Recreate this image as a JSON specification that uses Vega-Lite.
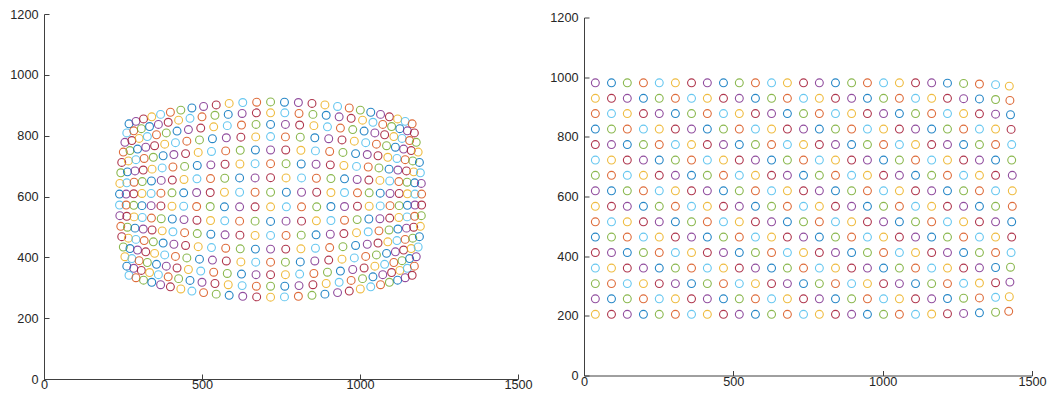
{"$schema":"https://vega.github.io/schema/vega-lite/v6.json","background":"white","padding":{"left":9,"top":8,"right":5,"bottom":5},"spacing":66,"bounds":"flush","center":true,
"config":{"view":{"stroke":null},"font":"Liberation Sans","axis":{"grid":false,"title":null,"domainColor":"#404040","domainWidth":1,"tickColor":"#404040","tickSize":-5,"labelColor":"#262626","labelFont":"Liberation Sans","labelFontSize":12.7,"labelFlush":false,"format":"d"},"axisX":{"labelPadding":4.5},"axisY":{"labelPadding":11}},
"datasets":{"L":[
{"x":269,"y":839,"c":0},{"x":291,"y":847,"c":3},{"x":315,"y":855,"c":6},{"x":341,"y":862,"c":2},{"x":369,"y":870,"c":5},{"x":400,"y":877,"c":1},{"x":433,"y":884,"c":4},{"x":468,"y":891,"c":0},{"x":505,"y":896,"c":3},{"x":545,"y":901,"c":6},{"x":586,"y":906,"c":2},{"x":629,"y":909,"c":5},{"x":673,"y":910,"c":1},{"x":717,"y":911,"c":4},{"x":761,"y":910,"c":0},{"x":805,"y":909,"c":3},{"x":848,"y":906,"c":6},{"x":889,"y":901,"c":2},{"x":929,"y":896,"c":5},{"x":966,"y":891,"c":1},{"x":1001,"y":884,"c":4},{"x":1034,"y":877,"c":0},{"x":1065,"y":870,"c":3},{"x":1093,"y":862,"c":6},{"x":1119,"y":855,"c":2},{"x":1143,"y":847,"c":5},{"x":1165,"y":839,"c":1},
{"x":262,"y":809,"c":5},{"x":284,"y":816,"c":1},{"x":308,"y":823,"c":4},{"x":334,"y":830,"c":0},{"x":362,"y":837,"c":3},{"x":393,"y":844,"c":6},{"x":426,"y":851,"c":2},{"x":462,"y":857,"c":5},{"x":500,"y":862,"c":1},{"x":541,"y":867,"c":4},{"x":583,"y":870,"c":0},{"x":627,"y":873,"c":3},{"x":672,"y":875,"c":6},{"x":717,"y":875,"c":2},{"x":762,"y":875,"c":5},{"x":807,"y":873,"c":1},{"x":851,"y":870,"c":4},{"x":893,"y":867,"c":0},{"x":934,"y":862,"c":3},{"x":972,"y":857,"c":6},{"x":1008,"y":851,"c":2},{"x":1041,"y":844,"c":5},{"x":1072,"y":837,"c":1},{"x":1100,"y":830,"c":4},{"x":1126,"y":823,"c":0},{"x":1150,"y":816,"c":3},{"x":1172,"y":809,"c":6},
{"x":256,"y":778,"c":3},{"x":278,"y":784,"c":6},{"x":301,"y":791,"c":2},{"x":327,"y":797,"c":5},{"x":356,"y":803,"c":1},{"x":387,"y":809,"c":4},{"x":421,"y":815,"c":0},{"x":457,"y":820,"c":3},{"x":496,"y":825,"c":6},{"x":537,"y":829,"c":2},{"x":580,"y":833,"c":5},{"x":625,"y":835,"c":1},{"x":671,"y":837,"c":4},{"x":717,"y":837,"c":0},{"x":764,"y":837,"c":3},{"x":809,"y":835,"c":6},{"x":854,"y":833,"c":2},{"x":897,"y":829,"c":5},{"x":938,"y":825,"c":1},{"x":977,"y":820,"c":4},{"x":1013,"y":815,"c":0},{"x":1047,"y":809,"c":3},{"x":1078,"y":803,"c":6},{"x":1107,"y":797,"c":2},{"x":1133,"y":791,"c":5},{"x":1157,"y":784,"c":1},{"x":1178,"y":778,"c":4},
{"x":251,"y":746,"c":1},{"x":272,"y":751,"c":4},{"x":296,"y":756,"c":0},{"x":322,"y":762,"c":3},{"x":350,"y":767,"c":6},{"x":382,"y":772,"c":2},{"x":416,"y":777,"c":5},{"x":452,"y":782,"c":1},{"x":492,"y":786,"c":4},{"x":533,"y":790,"c":0},{"x":577,"y":793,"c":3},{"x":623,"y":795,"c":6},{"x":670,"y":796,"c":2},{"x":717,"y":797,"c":5},{"x":764,"y":796,"c":1},{"x":811,"y":795,"c":4},{"x":857,"y":793,"c":0},{"x":901,"y":790,"c":3},{"x":943,"y":786,"c":6},{"x":982,"y":782,"c":2},{"x":1018,"y":777,"c":5},{"x":1052,"y":772,"c":1},{"x":1084,"y":767,"c":4},{"x":1112,"y":762,"c":0},{"x":1138,"y":756,"c":3},{"x":1162,"y":751,"c":6},{"x":1184,"y":746,"c":2},
{"x":246,"y":712,"c":6},{"x":267,"y":717,"c":2},{"x":291,"y":721,"c":5},{"x":317,"y":725,"c":1},{"x":346,"y":729,"c":4},{"x":377,"y":734,"c":0},{"x":411,"y":738,"c":3},{"x":448,"y":741,"c":6},{"x":488,"y":745,"c":2},{"x":530,"y":748,"c":5},{"x":575,"y":750,"c":1},{"x":621,"y":752,"c":4},{"x":669,"y":753,"c":0},{"x":717,"y":753,"c":3},{"x":765,"y":753,"c":6},{"x":813,"y":752,"c":2},{"x":859,"y":750,"c":5},{"x":904,"y":748,"c":1},{"x":946,"y":745,"c":4},{"x":986,"y":741,"c":0},{"x":1023,"y":738,"c":3},{"x":1057,"y":734,"c":6},{"x":1088,"y":729,"c":2},{"x":1117,"y":725,"c":5},{"x":1143,"y":721,"c":1},{"x":1167,"y":717,"c":4},{"x":1188,"y":712,"c":0},
{"x":243,"y":678,"c":4},{"x":264,"y":681,"c":0},{"x":288,"y":684,"c":3},{"x":314,"y":687,"c":6},{"x":342,"y":690,"c":2},{"x":374,"y":694,"c":5},{"x":408,"y":697,"c":1},{"x":445,"y":699,"c":4},{"x":485,"y":702,"c":0},{"x":528,"y":704,"c":3},{"x":573,"y":706,"c":6},{"x":620,"y":707,"c":2},{"x":668,"y":708,"c":5},{"x":717,"y":708,"c":1},{"x":766,"y":708,"c":4},{"x":814,"y":707,"c":0},{"x":861,"y":706,"c":3},{"x":906,"y":704,"c":6},{"x":949,"y":702,"c":2},{"x":989,"y":699,"c":5},{"x":1026,"y":697,"c":1},{"x":1060,"y":694,"c":4},{"x":1092,"y":690,"c":0},{"x":1120,"y":687,"c":3},{"x":1147,"y":684,"c":6},{"x":1170,"y":681,"c":2},{"x":1191,"y":678,"c":5},
{"x":240,"y":643,"c":2},{"x":262,"y":645,"c":5},{"x":285,"y":647,"c":1},{"x":311,"y":649,"c":4},{"x":340,"y":651,"c":0},{"x":371,"y":653,"c":3},{"x":406,"y":654,"c":6},{"x":443,"y":656,"c":2},{"x":484,"y":658,"c":5},{"x":527,"y":659,"c":1},{"x":572,"y":660,"c":4},{"x":619,"y":661,"c":0},{"x":668,"y":661,"c":3},{"x":717,"y":662,"c":6},{"x":766,"y":661,"c":2},{"x":815,"y":661,"c":5},{"x":862,"y":660,"c":1},{"x":908,"y":659,"c":4},{"x":951,"y":658,"c":0},{"x":991,"y":656,"c":3},{"x":1028,"y":654,"c":6},{"x":1063,"y":653,"c":2},{"x":1094,"y":651,"c":5},{"x":1123,"y":649,"c":1},{"x":1149,"y":647,"c":4},{"x":1173,"y":645,"c":0},{"x":1194,"y":643,"c":3},
{"x":239,"y":608,"c":0},{"x":260,"y":608,"c":3},{"x":284,"y":609,"c":6},{"x":310,"y":610,"c":2},{"x":339,"y":610,"c":5},{"x":370,"y":611,"c":1},{"x":405,"y":612,"c":4},{"x":442,"y":612,"c":0},{"x":483,"y":613,"c":3},{"x":526,"y":613,"c":6},{"x":571,"y":614,"c":2},{"x":619,"y":614,"c":5},{"x":668,"y":614,"c":1},{"x":717,"y":614,"c":4},{"x":767,"y":614,"c":0},{"x":815,"y":614,"c":3},{"x":863,"y":614,"c":6},{"x":908,"y":613,"c":2},{"x":951,"y":613,"c":5},{"x":992,"y":612,"c":1},{"x":1029,"y":612,"c":4},{"x":1064,"y":611,"c":0},{"x":1095,"y":610,"c":3},{"x":1124,"y":610,"c":6},{"x":1150,"y":609,"c":2},{"x":1174,"y":608,"c":5},{"x":1195,"y":608,"c":1},
{"x":239,"y":572,"c":5},{"x":260,"y":572,"c":1},{"x":284,"y":571,"c":4},{"x":310,"y":570,"c":0},{"x":339,"y":570,"c":3},{"x":370,"y":569,"c":6},{"x":405,"y":568,"c":2},{"x":442,"y":568,"c":5},{"x":483,"y":567,"c":1},{"x":526,"y":567,"c":4},{"x":571,"y":566,"c":0},{"x":619,"y":566,"c":3},{"x":668,"y":566,"c":6},{"x":717,"y":566,"c":2},{"x":767,"y":566,"c":5},{"x":815,"y":566,"c":1},{"x":863,"y":566,"c":4},{"x":908,"y":567,"c":0},{"x":951,"y":567,"c":3},{"x":992,"y":568,"c":6},{"x":1029,"y":568,"c":2},{"x":1064,"y":569,"c":5},{"x":1095,"y":570,"c":1},{"x":1124,"y":570,"c":4},{"x":1150,"y":571,"c":0},{"x":1174,"y":572,"c":3},{"x":1195,"y":572,"c":6},
{"x":240,"y":537,"c":3},{"x":262,"y":535,"c":6},{"x":285,"y":533,"c":2},{"x":311,"y":531,"c":5},{"x":340,"y":529,"c":1},{"x":371,"y":527,"c":4},{"x":406,"y":526,"c":0},{"x":443,"y":524,"c":3},{"x":484,"y":522,"c":6},{"x":527,"y":521,"c":2},{"x":572,"y":520,"c":5},{"x":619,"y":519,"c":1},{"x":668,"y":519,"c":4},{"x":717,"y":518,"c":0},{"x":766,"y":519,"c":3},{"x":815,"y":519,"c":6},{"x":862,"y":520,"c":2},{"x":908,"y":521,"c":5},{"x":951,"y":522,"c":1},{"x":991,"y":524,"c":4},{"x":1028,"y":526,"c":0},{"x":1063,"y":527,"c":3},{"x":1094,"y":529,"c":6},{"x":1123,"y":531,"c":2},{"x":1149,"y":533,"c":5},{"x":1173,"y":535,"c":1},{"x":1194,"y":537,"c":4},
{"x":243,"y":502,"c":1},{"x":264,"y":499,"c":4},{"x":288,"y":496,"c":0},{"x":314,"y":493,"c":3},{"x":342,"y":490,"c":6},{"x":374,"y":487,"c":2},{"x":408,"y":484,"c":5},{"x":445,"y":481,"c":1},{"x":485,"y":478,"c":4},{"x":528,"y":476,"c":0},{"x":573,"y":474,"c":3},{"x":620,"y":473,"c":6},{"x":668,"y":472,"c":2},{"x":717,"y":472,"c":5},{"x":766,"y":472,"c":1},{"x":814,"y":473,"c":4},{"x":861,"y":474,"c":0},{"x":906,"y":476,"c":3},{"x":949,"y":478,"c":6},{"x":989,"y":481,"c":2},{"x":1026,"y":484,"c":5},{"x":1060,"y":487,"c":1},{"x":1092,"y":490,"c":4},{"x":1120,"y":493,"c":0},{"x":1147,"y":496,"c":3},{"x":1170,"y":499,"c":6},{"x":1191,"y":502,"c":2},
{"x":246,"y":468,"c":6},{"x":267,"y":463,"c":2},{"x":291,"y":459,"c":5},{"x":317,"y":455,"c":1},{"x":346,"y":451,"c":4},{"x":377,"y":447,"c":0},{"x":411,"y":443,"c":3},{"x":448,"y":439,"c":6},{"x":488,"y":435,"c":2},{"x":530,"y":432,"c":5},{"x":575,"y":430,"c":1},{"x":621,"y":428,"c":4},{"x":669,"y":427,"c":0},{"x":717,"y":427,"c":3},{"x":765,"y":427,"c":6},{"x":813,"y":428,"c":2},{"x":859,"y":430,"c":5},{"x":904,"y":432,"c":1},{"x":946,"y":435,"c":4},{"x":986,"y":439,"c":0},{"x":1023,"y":443,"c":3},{"x":1057,"y":447,"c":6},{"x":1088,"y":451,"c":2},{"x":1117,"y":455,"c":5},{"x":1143,"y":459,"c":1},{"x":1167,"y":463,"c":4},{"x":1188,"y":468,"c":0},
{"x":251,"y":434,"c":4},{"x":272,"y":429,"c":0},{"x":296,"y":424,"c":3},{"x":322,"y":418,"c":6},{"x":350,"y":413,"c":2},{"x":382,"y":408,"c":5},{"x":416,"y":403,"c":1},{"x":452,"y":398,"c":4},{"x":492,"y":394,"c":0},{"x":533,"y":391,"c":3},{"x":577,"y":388,"c":6},{"x":623,"y":385,"c":2},{"x":670,"y":384,"c":5},{"x":717,"y":384,"c":1},{"x":764,"y":384,"c":4},{"x":811,"y":385,"c":0},{"x":857,"y":388,"c":3},{"x":901,"y":391,"c":6},{"x":943,"y":394,"c":2},{"x":982,"y":398,"c":5},{"x":1018,"y":403,"c":1},{"x":1052,"y":408,"c":4},{"x":1084,"y":413,"c":0},{"x":1112,"y":418,"c":3},{"x":1138,"y":424,"c":6},{"x":1162,"y":429,"c":2},{"x":1184,"y":434,"c":5},
{"x":256,"y":402,"c":2},{"x":278,"y":396,"c":5},{"x":301,"y":389,"c":1},{"x":327,"y":383,"c":4},{"x":356,"y":377,"c":0},{"x":387,"y":371,"c":3},{"x":421,"y":365,"c":6},{"x":457,"y":360,"c":2},{"x":496,"y":355,"c":5},{"x":537,"y":351,"c":1},{"x":580,"y":347,"c":4},{"x":625,"y":345,"c":0},{"x":671,"y":343,"c":3},{"x":717,"y":343,"c":6},{"x":764,"y":343,"c":2},{"x":809,"y":345,"c":5},{"x":854,"y":347,"c":1},{"x":897,"y":351,"c":4},{"x":938,"y":355,"c":0},{"x":977,"y":360,"c":3},{"x":1013,"y":365,"c":6},{"x":1047,"y":371,"c":2},{"x":1078,"y":377,"c":5},{"x":1107,"y":383,"c":1},{"x":1133,"y":389,"c":4},{"x":1157,"y":396,"c":0},{"x":1178,"y":402,"c":3},
{"x":262,"y":371,"c":0},{"x":284,"y":364,"c":3},{"x":308,"y":357,"c":6},{"x":334,"y":350,"c":2},{"x":362,"y":343,"c":5},{"x":393,"y":336,"c":1},{"x":426,"y":330,"c":4},{"x":462,"y":324,"c":0},{"x":500,"y":318,"c":3},{"x":541,"y":314,"c":6},{"x":583,"y":310,"c":2},{"x":627,"y":307,"c":5},{"x":672,"y":305,"c":1},{"x":717,"y":305,"c":4},{"x":762,"y":305,"c":0},{"x":807,"y":307,"c":3},{"x":851,"y":310,"c":6},{"x":893,"y":314,"c":2},{"x":934,"y":318,"c":5},{"x":972,"y":324,"c":1},{"x":1008,"y":330,"c":4},{"x":1041,"y":336,"c":0},{"x":1072,"y":343,"c":3},{"x":1100,"y":350,"c":6},{"x":1126,"y":357,"c":2},{"x":1150,"y":364,"c":5},{"x":1172,"y":371,"c":1},
{"x":269,"y":341,"c":5},{"x":291,"y":333,"c":1},{"x":315,"y":325,"c":4},{"x":341,"y":318,"c":0},{"x":369,"y":310,"c":3},{"x":400,"y":303,"c":6},{"x":433,"y":296,"c":2},{"x":468,"y":289,"c":5},{"x":505,"y":284,"c":1},{"x":545,"y":279,"c":4},{"x":586,"y":275,"c":0},{"x":629,"y":272,"c":3},{"x":673,"y":270,"c":6},{"x":717,"y":269,"c":2},{"x":761,"y":270,"c":5},{"x":805,"y":272,"c":1},{"x":848,"y":275,"c":4},{"x":889,"y":279,"c":0},{"x":929,"y":284,"c":3},{"x":966,"y":289,"c":6},{"x":1001,"y":296,"c":2},{"x":1034,"y":303,"c":5},{"x":1065,"y":310,"c":1},{"x":1093,"y":318,"c":4},{"x":1119,"y":325,"c":0},{"x":1143,"y":333,"c":3},{"x":1165,"y":341,"c":6}
],"R":[
{"x":38,"y":981,"c":3},{"x":92,"y":981,"c":0},{"x":145,"y":981,"c":4},{"x":199,"y":981,"c":1},{"x":252,"y":981,"c":5},{"x":306,"y":981,"c":2},{"x":360,"y":981,"c":6},{"x":413,"y":981,"c":3},{"x":467,"y":981,"c":0},{"x":520,"y":981,"c":4},{"x":574,"y":981,"c":1},{"x":628,"y":981,"c":5},{"x":681,"y":981,"c":2},{"x":735,"y":981,"c":6},{"x":788,"y":981,"c":3},{"x":842,"y":981,"c":0},{"x":896,"y":981,"c":4},{"x":949,"y":981,"c":1},{"x":1003,"y":981,"c":5},{"x":1056,"y":981,"c":2},{"x":1110,"y":981,"c":6},{"x":1164,"y":981,"c":3},{"x":1217,"y":980,"c":0},{"x":1271,"y":979,"c":4},{"x":1324,"y":977,"c":1},{"x":1378,"y":975,"c":5},{"x":1424,"y":970,"c":2},
{"x":38,"y":929,"c":2},{"x":92,"y":929,"c":6},{"x":145,"y":929,"c":3},{"x":199,"y":929,"c":0},{"x":252,"y":929,"c":4},{"x":306,"y":929,"c":1},{"x":360,"y":929,"c":5},{"x":413,"y":929,"c":2},{"x":467,"y":929,"c":6},{"x":520,"y":929,"c":3},{"x":574,"y":929,"c":0},{"x":628,"y":929,"c":4},{"x":681,"y":929,"c":1},{"x":735,"y":929,"c":5},{"x":788,"y":929,"c":2},{"x":842,"y":929,"c":6},{"x":896,"y":929,"c":3},{"x":949,"y":929,"c":0},{"x":1003,"y":929,"c":4},{"x":1056,"y":929,"c":1},{"x":1110,"y":929,"c":5},{"x":1164,"y":929,"c":2},{"x":1217,"y":929,"c":6},{"x":1271,"y":928,"c":3},{"x":1324,"y":927,"c":0},{"x":1378,"y":925,"c":4},{"x":1426,"y":922,"c":1},
{"x":38,"y":878,"c":1},{"x":92,"y":878,"c":5},{"x":145,"y":878,"c":2},{"x":199,"y":878,"c":6},{"x":252,"y":878,"c":3},{"x":306,"y":878,"c":0},{"x":360,"y":878,"c":4},{"x":413,"y":878,"c":1},{"x":467,"y":878,"c":5},{"x":520,"y":878,"c":2},{"x":574,"y":878,"c":6},{"x":628,"y":878,"c":3},{"x":681,"y":878,"c":0},{"x":735,"y":878,"c":4},{"x":788,"y":878,"c":1},{"x":842,"y":878,"c":5},{"x":896,"y":878,"c":2},{"x":949,"y":878,"c":6},{"x":1003,"y":878,"c":3},{"x":1056,"y":878,"c":0},{"x":1110,"y":878,"c":4},{"x":1164,"y":878,"c":1},{"x":1217,"y":878,"c":5},{"x":1271,"y":878,"c":2},{"x":1324,"y":877,"c":6},{"x":1378,"y":876,"c":3},{"x":1428,"y":874,"c":0},
{"x":38,"y":826,"c":0},{"x":92,"y":826,"c":4},{"x":145,"y":826,"c":1},{"x":199,"y":826,"c":5},{"x":252,"y":826,"c":2},{"x":306,"y":826,"c":6},{"x":360,"y":826,"c":3},{"x":413,"y":826,"c":0},{"x":467,"y":826,"c":4},{"x":520,"y":826,"c":1},{"x":574,"y":826,"c":5},{"x":628,"y":826,"c":2},{"x":681,"y":826,"c":6},{"x":735,"y":826,"c":3},{"x":788,"y":826,"c":0},{"x":842,"y":826,"c":4},{"x":896,"y":826,"c":1},{"x":949,"y":826,"c":5},{"x":1003,"y":826,"c":2},{"x":1056,"y":826,"c":6},{"x":1110,"y":826,"c":3},{"x":1164,"y":826,"c":0},{"x":1217,"y":826,"c":4},{"x":1271,"y":826,"c":1},{"x":1324,"y":826,"c":5},{"x":1378,"y":826,"c":2},{"x":1430,"y":825,"c":6},
{"x":38,"y":774,"c":6},{"x":92,"y":774,"c":3},{"x":145,"y":774,"c":0},{"x":199,"y":774,"c":4},{"x":252,"y":774,"c":1},{"x":306,"y":774,"c":5},{"x":360,"y":774,"c":2},{"x":413,"y":774,"c":6},{"x":467,"y":774,"c":3},{"x":520,"y":774,"c":0},{"x":574,"y":774,"c":4},{"x":628,"y":774,"c":1},{"x":681,"y":774,"c":5},{"x":735,"y":774,"c":2},{"x":788,"y":774,"c":6},{"x":842,"y":774,"c":3},{"x":896,"y":774,"c":0},{"x":949,"y":774,"c":4},{"x":1003,"y":774,"c":1},{"x":1056,"y":774,"c":5},{"x":1110,"y":774,"c":2},{"x":1164,"y":774,"c":6},{"x":1217,"y":774,"c":3},{"x":1271,"y":774,"c":0},{"x":1324,"y":774,"c":4},{"x":1378,"y":774,"c":1},{"x":1432,"y":774,"c":5},
{"x":38,"y":722,"c":5},{"x":92,"y":722,"c":2},{"x":145,"y":722,"c":6},{"x":199,"y":722,"c":3},{"x":252,"y":722,"c":0},{"x":306,"y":722,"c":4},{"x":360,"y":722,"c":1},{"x":413,"y":722,"c":5},{"x":467,"y":722,"c":2},{"x":520,"y":722,"c":6},{"x":574,"y":722,"c":3},{"x":628,"y":722,"c":0},{"x":681,"y":722,"c":4},{"x":735,"y":722,"c":1},{"x":788,"y":722,"c":5},{"x":842,"y":722,"c":2},{"x":896,"y":722,"c":6},{"x":949,"y":722,"c":3},{"x":1003,"y":722,"c":0},{"x":1056,"y":722,"c":4},{"x":1110,"y":722,"c":1},{"x":1164,"y":722,"c":5},{"x":1217,"y":722,"c":2},{"x":1271,"y":722,"c":6},{"x":1324,"y":722,"c":3},{"x":1378,"y":722,"c":0},{"x":1432,"y":722,"c":4},
{"x":38,"y":671,"c":4},{"x":92,"y":671,"c":1},{"x":145,"y":671,"c":5},{"x":199,"y":671,"c":2},{"x":252,"y":671,"c":6},{"x":306,"y":671,"c":3},{"x":360,"y":671,"c":0},{"x":413,"y":671,"c":4},{"x":467,"y":671,"c":1},{"x":520,"y":671,"c":5},{"x":574,"y":671,"c":2},{"x":628,"y":671,"c":6},{"x":681,"y":671,"c":3},{"x":735,"y":671,"c":0},{"x":788,"y":671,"c":4},{"x":842,"y":671,"c":1},{"x":896,"y":671,"c":5},{"x":949,"y":671,"c":2},{"x":1003,"y":671,"c":6},{"x":1056,"y":671,"c":3},{"x":1110,"y":671,"c":0},{"x":1164,"y":671,"c":4},{"x":1217,"y":671,"c":1},{"x":1271,"y":671,"c":5},{"x":1324,"y":671,"c":2},{"x":1378,"y":671,"c":6},{"x":1434,"y":671,"c":3},
{"x":38,"y":619,"c":3},{"x":92,"y":619,"c":0},{"x":145,"y":619,"c":4},{"x":199,"y":619,"c":1},{"x":252,"y":619,"c":5},{"x":306,"y":619,"c":2},{"x":360,"y":619,"c":6},{"x":413,"y":619,"c":3},{"x":467,"y":619,"c":0},{"x":520,"y":619,"c":4},{"x":574,"y":619,"c":1},{"x":628,"y":619,"c":5},{"x":681,"y":619,"c":2},{"x":735,"y":619,"c":6},{"x":788,"y":619,"c":3},{"x":842,"y":619,"c":0},{"x":896,"y":619,"c":4},{"x":949,"y":619,"c":1},{"x":1003,"y":619,"c":5},{"x":1056,"y":619,"c":2},{"x":1110,"y":619,"c":6},{"x":1164,"y":619,"c":3},{"x":1217,"y":619,"c":0},{"x":1271,"y":619,"c":4},{"x":1324,"y":619,"c":1},{"x":1378,"y":619,"c":5},{"x":1434,"y":619,"c":2},
{"x":38,"y":567,"c":2},{"x":92,"y":567,"c":6},{"x":145,"y":567,"c":3},{"x":199,"y":567,"c":0},{"x":252,"y":567,"c":4},{"x":306,"y":567,"c":1},{"x":360,"y":567,"c":5},{"x":413,"y":567,"c":2},{"x":467,"y":567,"c":6},{"x":520,"y":567,"c":3},{"x":574,"y":567,"c":0},{"x":628,"y":567,"c":4},{"x":681,"y":567,"c":1},{"x":735,"y":567,"c":5},{"x":788,"y":567,"c":2},{"x":842,"y":567,"c":6},{"x":896,"y":567,"c":3},{"x":949,"y":567,"c":0},{"x":1003,"y":567,"c":4},{"x":1056,"y":567,"c":1},{"x":1110,"y":567,"c":5},{"x":1164,"y":567,"c":2},{"x":1217,"y":567,"c":6},{"x":1271,"y":567,"c":3},{"x":1324,"y":567,"c":0},{"x":1378,"y":567,"c":4},{"x":1434,"y":567,"c":1},
{"x":38,"y":515,"c":1},{"x":92,"y":515,"c":5},{"x":145,"y":515,"c":2},{"x":199,"y":515,"c":6},{"x":252,"y":515,"c":3},{"x":306,"y":515,"c":0},{"x":360,"y":515,"c":4},{"x":413,"y":515,"c":1},{"x":467,"y":515,"c":5},{"x":520,"y":515,"c":2},{"x":574,"y":515,"c":6},{"x":628,"y":515,"c":3},{"x":681,"y":515,"c":0},{"x":735,"y":515,"c":4},{"x":788,"y":515,"c":1},{"x":842,"y":515,"c":5},{"x":896,"y":515,"c":2},{"x":949,"y":515,"c":6},{"x":1003,"y":515,"c":3},{"x":1056,"y":515,"c":0},{"x":1110,"y":515,"c":4},{"x":1164,"y":515,"c":1},{"x":1217,"y":515,"c":5},{"x":1271,"y":515,"c":2},{"x":1324,"y":515,"c":6},{"x":1378,"y":515,"c":3},{"x":1432,"y":515,"c":0},
{"x":38,"y":464,"c":0},{"x":92,"y":464,"c":4},{"x":145,"y":464,"c":1},{"x":199,"y":464,"c":5},{"x":252,"y":464,"c":2},{"x":306,"y":464,"c":6},{"x":360,"y":464,"c":3},{"x":413,"y":464,"c":0},{"x":467,"y":464,"c":4},{"x":520,"y":464,"c":1},{"x":574,"y":464,"c":5},{"x":628,"y":464,"c":2},{"x":681,"y":464,"c":6},{"x":735,"y":464,"c":3},{"x":788,"y":464,"c":0},{"x":842,"y":464,"c":4},{"x":896,"y":464,"c":1},{"x":949,"y":464,"c":5},{"x":1003,"y":464,"c":2},{"x":1056,"y":464,"c":6},{"x":1110,"y":464,"c":3},{"x":1164,"y":464,"c":0},{"x":1217,"y":464,"c":4},{"x":1271,"y":464,"c":1},{"x":1324,"y":464,"c":5},{"x":1378,"y":464,"c":2},{"x":1432,"y":464,"c":6},
{"x":38,"y":412,"c":6},{"x":92,"y":412,"c":3},{"x":145,"y":412,"c":0},{"x":199,"y":412,"c":4},{"x":252,"y":412,"c":1},{"x":306,"y":412,"c":5},{"x":360,"y":412,"c":2},{"x":413,"y":412,"c":6},{"x":467,"y":412,"c":3},{"x":520,"y":412,"c":0},{"x":574,"y":412,"c":4},{"x":628,"y":412,"c":1},{"x":681,"y":412,"c":5},{"x":735,"y":412,"c":2},{"x":788,"y":412,"c":6},{"x":842,"y":412,"c":3},{"x":896,"y":412,"c":0},{"x":949,"y":412,"c":4},{"x":1003,"y":412,"c":1},{"x":1056,"y":412,"c":5},{"x":1110,"y":412,"c":2},{"x":1164,"y":412,"c":6},{"x":1217,"y":412,"c":3},{"x":1271,"y":412,"c":0},{"x":1324,"y":412,"c":4},{"x":1378,"y":412,"c":1},{"x":1430,"y":412,"c":5},
{"x":38,"y":360,"c":5},{"x":92,"y":360,"c":2},{"x":145,"y":360,"c":6},{"x":199,"y":360,"c":3},{"x":252,"y":360,"c":0},{"x":306,"y":360,"c":4},{"x":360,"y":360,"c":1},{"x":413,"y":360,"c":5},{"x":467,"y":360,"c":2},{"x":520,"y":360,"c":6},{"x":574,"y":360,"c":3},{"x":628,"y":360,"c":0},{"x":681,"y":360,"c":4},{"x":735,"y":360,"c":1},{"x":788,"y":360,"c":5},{"x":842,"y":360,"c":2},{"x":896,"y":360,"c":6},{"x":949,"y":360,"c":3},{"x":1003,"y":360,"c":0},{"x":1056,"y":360,"c":4},{"x":1110,"y":360,"c":1},{"x":1164,"y":360,"c":5},{"x":1217,"y":360,"c":2},{"x":1271,"y":360,"c":6},{"x":1324,"y":361,"c":3},{"x":1378,"y":362,"c":0},{"x":1428,"y":363,"c":4},
{"x":38,"y":308,"c":4},{"x":92,"y":308,"c":1},{"x":145,"y":308,"c":5},{"x":199,"y":308,"c":2},{"x":252,"y":308,"c":6},{"x":306,"y":308,"c":3},{"x":360,"y":308,"c":0},{"x":413,"y":308,"c":4},{"x":467,"y":308,"c":1},{"x":520,"y":308,"c":5},{"x":574,"y":308,"c":2},{"x":628,"y":308,"c":6},{"x":681,"y":308,"c":3},{"x":735,"y":308,"c":0},{"x":788,"y":308,"c":4},{"x":842,"y":308,"c":1},{"x":896,"y":308,"c":5},{"x":949,"y":308,"c":2},{"x":1003,"y":308,"c":6},{"x":1056,"y":308,"c":3},{"x":1110,"y":308,"c":0},{"x":1164,"y":308,"c":4},{"x":1217,"y":308,"c":1},{"x":1271,"y":309,"c":5},{"x":1324,"y":310,"c":2},{"x":1378,"y":311,"c":6},{"x":1426,"y":313,"c":3},
{"x":38,"y":257,"c":3},{"x":92,"y":257,"c":0},{"x":145,"y":257,"c":4},{"x":199,"y":257,"c":1},{"x":252,"y":257,"c":5},{"x":306,"y":257,"c":2},{"x":360,"y":257,"c":6},{"x":413,"y":257,"c":3},{"x":467,"y":257,"c":0},{"x":520,"y":257,"c":4},{"x":574,"y":257,"c":1},{"x":628,"y":257,"c":5},{"x":681,"y":257,"c":2},{"x":735,"y":257,"c":6},{"x":788,"y":257,"c":3},{"x":842,"y":257,"c":0},{"x":896,"y":257,"c":4},{"x":949,"y":257,"c":1},{"x":1003,"y":257,"c":5},{"x":1056,"y":257,"c":2},{"x":1110,"y":257,"c":6},{"x":1164,"y":257,"c":3},{"x":1217,"y":258,"c":0},{"x":1271,"y":259,"c":4},{"x":1324,"y":260,"c":1},{"x":1378,"y":262,"c":5},{"x":1424,"y":264,"c":2},
{"x":38,"y":205,"c":2},{"x":92,"y":205,"c":6},{"x":145,"y":205,"c":3},{"x":199,"y":205,"c":0},{"x":252,"y":205,"c":4},{"x":306,"y":205,"c":1},{"x":360,"y":205,"c":5},{"x":413,"y":205,"c":2},{"x":467,"y":205,"c":6},{"x":520,"y":205,"c":3},{"x":574,"y":205,"c":0},{"x":628,"y":205,"c":4},{"x":681,"y":205,"c":1},{"x":735,"y":205,"c":5},{"x":788,"y":205,"c":2},{"x":842,"y":205,"c":6},{"x":896,"y":205,"c":3},{"x":949,"y":205,"c":0},{"x":1003,"y":205,"c":4},{"x":1056,"y":205,"c":1},{"x":1110,"y":205,"c":5},{"x":1164,"y":206,"c":2},{"x":1217,"y":207,"c":6},{"x":1271,"y":208,"c":3},{"x":1324,"y":210,"c":0},{"x":1378,"y":212,"c":4},{"x":1422,"y":215,"c":1}
]},
"hconcat":[
{"width":474,"height":365,"data":{"name":"L"},"mark":{"type":"point","shape":"circle","filled":false,"size":62,"strokeWidth":1.1,"opacity":0.85},
"encoding":{"x":{"field":"x","type":"quantitative","scale":{"domain":[0,1500],"nice":false,"zero":false},"axis":{"values":[0,500,1000,1500]}},
"y":{"field":"y","type":"quantitative","scale":{"domain":[0,1200],"nice":false,"zero":false},"axis":{"values":[0,200,400,600,800,1000,1200]}},
"color":{"field":"c","type":"nominal","scale":{"domain":[0,1,2,3,4,5,6],"range":["#0072BD","#D95319","#EDB120","#7E2F8E","#77AC30","#4DBEEE","#A2142F"]},"legend":null}}},
{"width":448,"height":358,"data":{"name":"R"},"mark":{"type":"point","shape":"circle","filled":false,"size":62,"strokeWidth":1.1,"opacity":0.85},
"encoding":{"x":{"field":"x","type":"quantitative","scale":{"domain":[0,1500],"nice":false,"zero":false},"axis":{"values":[0,500,1000,1500]}},
"y":{"field":"y","type":"quantitative","scale":{"domain":[0,1200],"nice":false,"zero":false},"axis":{"values":[0,200,400,600,800,1000,1200]}},
"color":{"field":"c","type":"nominal","scale":{"domain":[0,1,2,3,4,5,6],"range":["#0072BD","#D95319","#EDB120","#7E2F8E","#77AC30","#4DBEEE","#A2142F"]},"legend":null}}}
]}
